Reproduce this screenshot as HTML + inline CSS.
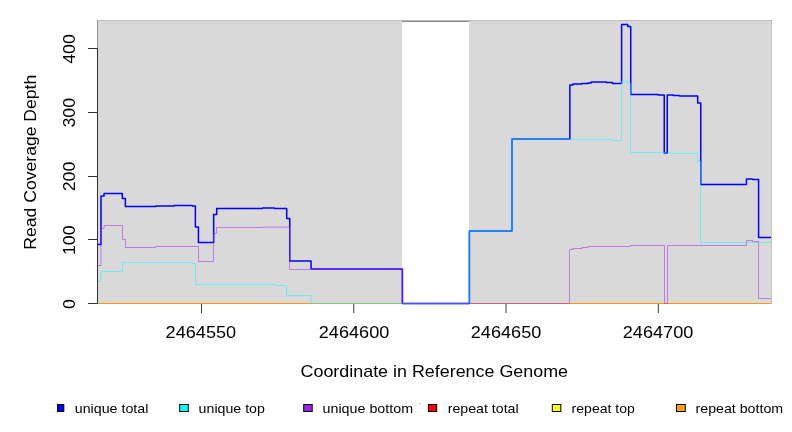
<!DOCTYPE html>
<html><head><meta charset="utf-8"><title>Read Coverage Depth</title>
<style>
html,body{margin:0;padding:0;background:#fff;}
body{width:792px;height:432px;overflow:hidden;}
svg{display:block;font-family:"Liberation Sans", sans-serif;}
svg text{fill:#000;}
.t{filter:grayscale(1);}
</style></head>
<body>
<svg width="792" height="432" viewBox="0 0 792 432">
<rect x="0" y="0" width="792" height="432" fill="#fff"/>
<rect x="97" y="20" width="305" height="283.5" fill="#d9d9d9"/>
<rect x="469" y="20" width="302" height="283.5" fill="#d9d9d9"/>
<rect x="97" y="20" width="675" height="1" fill="#bdbdbd"/>
<rect x="402" y="21" width="67" height="1" fill="#898989"/>
<rect x="771" y="20" width="1" height="284" fill="#c4c4c4"/>
<rect x="97" y="20" width="1" height="29" fill="#8c8c8c"/>
<path d="M97,303.5 L771,303.5" stroke="#ff9900" stroke-width="1" fill="none"/>
<path d="M97,244.5 L101,244.5 L101,196 L104.05,196 L104.05,193.5 L122.32,193.5 L122.32,198.5 L125.36,198.5 L125.36,206.5 L155.8,206.5 L155.8,206 L174.07,206 L174.07,205.5 L192.34,205.5 L192.34,206 L195.38,206 L195.38,227 L198.43,227 L198.43,242.5 L213.65,242.5 L213.65,214.5 L216.69,214.5 L216.69,208.5 L262.36,208.5 L262.36,208 L274.54,208 L274.54,208.5 L286.71,208.5 L286.71,218.5 L289.76,218.5 L289.76,261 L311.07,261 L311.07,269 L402.4,269 L402.4,303.5 L469.38,303.5 L469.38,231 L512,231 L512,139 L569.84,139 L569.84,85 L572.89,85 L572.89,84 L582.02,84 L582.02,83.5 L588.11,83.5 L588.11,83 L591.15,83 L591.15,82 L606.38,82 L606.38,82.5 L612.46,82.5 L612.46,83.5 L621.6,83.5 L621.6,24.5 L627.69,24.5 L627.69,26.5 L630.73,26.5 L630.73,94.5 L658.13,94.5 L658.13,95 L664.22,95 L664.22,153 L667.26,153 L667.26,95 L673.35,95 L673.35,95.5 L679.44,95.5 L679.44,96 L697.71,96 L697.71,103 L700.75,103 L700.75,184.5 L746.42,184.5 L746.42,179 L752.51,179 L752.51,179.5 L758.6,179.5 L758.6,237.5 L771,237.5" stroke="#0000ff" stroke-width="1.5" fill="none" stroke-linejoin="round"/>
<path d="M97,281.5 L101,281.5 L101,271.5 L122.5,271.5 L122.5,262.5 L192.5,262.5 L192.5,263.5 L195.5,263.5 L195.5,284.5 L274.5,284.5 L274.5,285.5 L286.5,285.5 L286.5,295.5 L311.07,295.5 L311.07,303.5 L402.5,303.5 M569.5,139.5 L606.5,139.5 L612.5,139.5 L612.5,140.5 L621.5,140.5 L621.5,81.5 L627.5,81.5 L627.5,83.5 L630.5,83.5 L630.5,152.5 L664.5,152.5 L664.5,153 L673.5,153 L673.5,153.5 L697.5,153.5 L697.5,161.5 L700.5,161.5 L700.5,242.5 L771,242.5" stroke="#00ffff" stroke-opacity="0.5" stroke-width="1" fill="none" stroke-linejoin="round"/>
<path d="M402.4,303.5 L469.38,303.5 L469.38,231 L512,231 L512,139 L569.84,139" stroke="#00ffff" stroke-opacity="0.5" stroke-width="1.5" fill="none" stroke-linejoin="round"/>
<path d="M97,265.5 L101,265.5 L101,228.5 L104.05,228.5 L104.05,225.5 L122.5,225.5 L122.5,239.5 L125.5,239.5 L125.5,247.5 L155.5,247.5 L155.5,246.5 L198.5,246.5 L198.5,261.5 L213.5,261.5 L213.5,233.5 L216.5,233.5 L216.5,227.5 L262.5,227.5 L262.5,227.1 L289.5,227.1 L289.5,269.5 L311.07,269.5 M469.5,303.5 L569.5,303.5 L569.5,249.5 L572.89,249.5 L572.89,248.5 L582.02,248.5 L582.02,247.5 L588.11,247.5 L588.11,246.5 L630.5,246.5 L630.5,245.5 L664.5,245.5 L664.5,303.5 L667.5,303.5 L667.5,245.5 L746.5,245.5 L746.5,240.5 L752.5,240.5 L752.5,241.5 L758.5,241.5 L758.5,298.5 L771,298.5" stroke="#a020f0" stroke-opacity="0.5" stroke-width="1" fill="none" stroke-linejoin="round"/>
<path d="M311.07,269 L402.4,269 L402.4,303.5 L469.38,303.5" stroke="#a020f0" stroke-opacity="0.5" stroke-width="1.5" fill="none" stroke-linejoin="round"/>
<rect x="97" y="48" width="1" height="256" fill="#333"/>
<rect x="88" y="303" width="9" height="1" fill="#333"/>
<rect x="88" y="239" width="9" height="1" fill="#333"/>
<rect x="88" y="176" width="9" height="1" fill="#333"/>
<rect x="88" y="112" width="9" height="1" fill="#333"/>
<rect x="88" y="48" width="9" height="1" fill="#333"/>
<rect x="201.00" y="304" width="1" height="9" fill="#3a3a3a"/>
<rect x="353.27" y="304" width="1" height="9" fill="#3a3a3a"/>
<rect x="505.54" y="304" width="1" height="9" fill="#3a3a3a"/>
<rect x="657.81" y="304" width="1" height="9" fill="#3a3a3a"/>
<rect x="419" y="403" width="2" height="1" fill="#c6c6c6"/>
<rect x="57.5" y="404.5" width="6.3" height="7" fill="#0000ff" stroke="#000" stroke-width="1"/>
<rect x="179.7" y="404.5" width="8.6" height="7" fill="#00ffff" stroke="#000" stroke-width="1"/>
<rect x="303.7" y="404.5" width="8.5" height="7" fill="#a020f0" stroke="#000" stroke-width="1"/>
<rect x="428.4" y="404.5" width="8.3" height="7" fill="#ff0000" stroke="#000" stroke-width="1"/>
<rect x="552.3" y="404.5" width="8.5" height="7" fill="#ffff00" stroke="#000" stroke-width="1"/>
<rect x="676.5" y="404.5" width="8.8" height="7" fill="#ffa500" stroke="#000" stroke-width="1"/>
<g class="t">
<text transform="translate(74.6,304.0) rotate(-90)" text-anchor="middle" font-size="17" textLength="9.9" lengthAdjust="spacingAndGlyphs">0</text>
<text transform="translate(74.6,240.25) rotate(-90)" text-anchor="middle" font-size="17" textLength="29.7" lengthAdjust="spacingAndGlyphs">100</text>
<text transform="translate(74.6,176.5) rotate(-90)" text-anchor="middle" font-size="17" textLength="29.7" lengthAdjust="spacingAndGlyphs">200</text>
<text transform="translate(74.6,112.75) rotate(-90)" text-anchor="middle" font-size="17" textLength="29.7" lengthAdjust="spacingAndGlyphs">300</text>
<text transform="translate(74.6,49.0) rotate(-90)" text-anchor="middle" font-size="17" textLength="29.7" lengthAdjust="spacingAndGlyphs">400</text>
<text x="200.85" y="338" text-anchor="middle" font-size="17" textLength="70.5" lengthAdjust="spacingAndGlyphs">2464550</text>
<text x="354.05" y="338" text-anchor="middle" font-size="17" textLength="70.5" lengthAdjust="spacingAndGlyphs">2464600</text>
<text x="506.05" y="338" text-anchor="middle" font-size="17" textLength="70.5" lengthAdjust="spacingAndGlyphs">2464650</text>
<text x="658.05" y="338" text-anchor="middle" font-size="17" textLength="70.5" lengthAdjust="spacingAndGlyphs">2464700</text>
<text x="434.3" y="377" text-anchor="middle" font-size="17" textLength="267.5" lengthAdjust="spacingAndGlyphs">Coordinate in Reference Genome</text>
<text transform="translate(36,162.2) rotate(-90)" text-anchor="middle" font-size="17" textLength="175" lengthAdjust="spacingAndGlyphs">Read Coverage Depth</text>
<text x="74.76" y="412.7" font-size="13.6" textLength="73.64" lengthAdjust="spacingAndGlyphs">unique total</text>
<text x="198.63" y="412.7" font-size="13.6" textLength="66.24" lengthAdjust="spacingAndGlyphs">unique top</text>
<text x="322.57" y="412.7" font-size="13.6" textLength="90.47" lengthAdjust="spacingAndGlyphs">unique bottom</text>
<text x="447.66" y="412.7" font-size="13.6" textLength="70.95" lengthAdjust="spacingAndGlyphs">repeat total</text>
<text x="571.64" y="412.7" font-size="13.6" textLength="63.25" lengthAdjust="spacingAndGlyphs">repeat top</text>
<text x="695.58" y="412.7" font-size="13.6" textLength="87.53" lengthAdjust="spacingAndGlyphs">repeat bottom</text>
</g>
</svg>
</body></html>
